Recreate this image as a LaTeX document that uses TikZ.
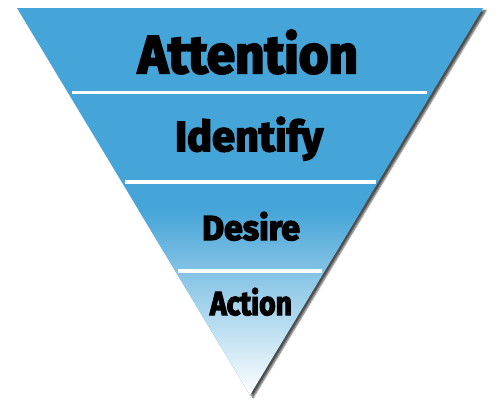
\documentclass[tikz,border=0pt]{standalone}
\usepackage{fontspec}
\usepackage{graphicx}
\usepackage{tikz}
\usetikzlibrary{shadows.blur}
\newfontfamily\funnelfont{Fira Sans}[BoldFeatures={FakeBold=4}]
\definecolor{funnelblue}{HTML}{46A5D8}
\newcommand{\funnelword}[3]{\resizebox{#1}{#2}{\funnelfont\bfseries #3}}

\begin{document}
\begin{tikzpicture}[x=1pt,y=-1pt,
  stage/.style={inner sep=0pt,anchor=base,text=black},
  divider/.style={white,line width=3.8pt}]
\useasboundingbox (0,0) rectangle (500,408);
\coordinate (topleft) at (17,8);
\coordinate (topright) at (483,8);
\coordinate (apex) at (250,395);
% funnel body
\fill[funnelblue,blur shadow={shadow xshift=3pt,shadow yshift=-2.5pt,shadow blur steps=6,shadow opacity=70}]
  (topleft) -- (topright) -- (apex) -- cycle;
\begin{scope}
\clip (topleft) -- (topright) -- (apex) -- cycle;
\shade[top color=funnelblue,bottom color=white] (0,210) rectangle (500,396);
\end{scope}
% dividers
\coordinate (d1l) at (72,92.5);  \coordinate (d1r) at (427,92.5);
\coordinate (d2l) at (125,182);  \coordinate (d2r) at (376,182);
\coordinate (d3l) at (178,271);  \coordinate (d3r) at (322,271);
\draw[divider] (d1l) -- (d1r);
\draw[divider] (d2l) -- (d2r);
\draw[divider] (d3l) -- (d3r);
% labels
\node[stage] (attention) at (248,73) {\funnelword{220pt}{43pt}{Attention}};
\node[stage] (identify) at (249,151) {\funnelword{148pt}{34pt}{Identify}};
\node[stage] (desire) at (251,240) {\funnelword{98pt}{28pt}{Desire}};
\node[stage] (action) at (251,315) {\funnelword{82pt}{27pt}{Action}};
\end{tikzpicture}
\end{document}
